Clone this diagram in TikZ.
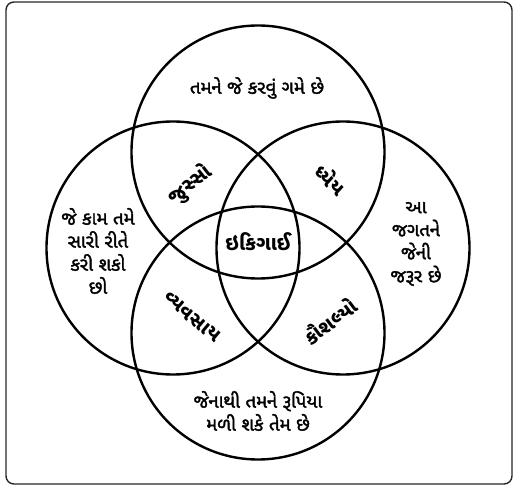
\documentclass[tikz,border=0pt]{standalone}
\usepackage{fontspec}
\usepackage{tikz}
\usetikzlibrary{positioning}
\newfontfamily\guj[Script=Gujarati,FakeBold=1.8]{Noto Sans Gujarati UI}
\newfontfamily\gujb[Script=Gujarati]{Noto Sans Gujarati UI}

\begin{document}
\begin{tikzpicture}
		[x=1pt,y=-1pt,
		ring/.style={circle,draw,line width=2.4pt,minimum size=253pt,inner sep=0pt},
		area/.style={align=center,font=\guj\fontsize{18.5}{23}\selectfont},
		meet/.style={font=\gujb\bfseries\fontsize{20}{22}\selectfont}]
		\useasboundingbox (0,0) rectangle (515,486);
		\draw[rounded corners=8pt,line width=1.4pt,black!85] (6,2) rectangle (512,484);
		
		\node[ring] (love) at (258,152) {};
		\node[ring] (good) at (173,248) {};
		\node[ring] (need) at (343,248) {};
		\node[ring] (paid) at (258,333) {};
		
		\node[area] (tlove) at (257,88) {તમને જે કરવું ગમે છે};
		\node[area] (tgood) at (98,251) {જે કામ તમે\\સારી રીતે\\કરી શકો\\છો};
		\node[area] (tneed) at (416,244) {આ\\જગતને\\જેની\\જરૂર છે};
		\node[area] (tpaid) at (258,411) {જેનાથી તમને રૂપિયા\\મળી શકે તેમ છે};
		
		\node[meet] (ikigai) at (258,242) {ઇકિગાઈ};
		\node[meet,rotate=38] (passion) at (190,185) {જુસ્સો};
		\node[meet,rotate=-42] (mission) at (331,179) {ધ્યેય};
		\node[meet,rotate=-40] (profession) at (192,317) {વ્યવસાય};
		\node[meet,rotate=37] (vocation) at (330,321) {કૌશલ્યો};
		\end{tikzpicture}
\end{document}
